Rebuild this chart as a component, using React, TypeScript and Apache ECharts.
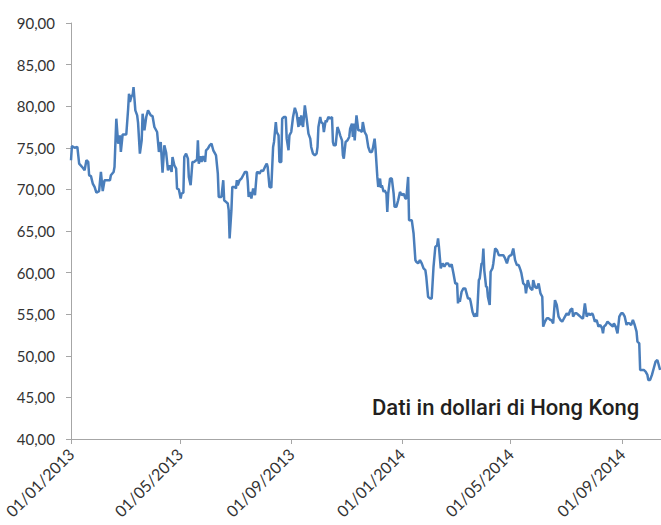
import React, { useEffect, useRef } from "react";
import * as echarts from "echarts";

// Days elapsed since 01/01/2013
const dayOffsets = [
  0, 1, 4, 7, 9, 13, 15, 17, 19, 20, 22, 24, 26, 28, 31, 33, 35, 37, 40, 43,
  44, 47, 48, 50, 52, 54, 55, 57, 61, 63, 64, 65, 67, 68, 69, 71, 73, 74, 76, 78,
  79, 81, 83, 85, 88, 90, 92, 95, 97, 99, 101, 103, 105, 107, 109, 111, 112, 114, 116, 117,
  119, 121, 122, 124, 125, 127, 129, 130, 132, 134, 136, 138, 139, 140, 141, 143, 144, 146, 148, 149,
  151, 153, 155, 157, 159, 160, 162, 163, 166, 168, 169, 171, 173, 174, 175, 177, 178, 181, 182, 183,
  184, 186, 188, 190, 192, 194, 195, 196, 198, 199, 201, 203, 205, 206, 208, 210, 212, 214, 216, 217,
  219, 221, 223, 224, 226, 227, 229, 230, 232, 233, 235, 237, 238, 240, 241, 243, 245, 247, 249, 251,
  252, 253, 254, 256, 257, 258, 260, 262, 264, 265, 267, 269, 271, 272, 273, 275, 276, 278, 279, 281,
  282, 284, 286, 288, 289, 290, 292, 294, 296, 297, 299, 300, 301, 303, 305, 307, 308, 310, 311, 312,
  313, 315, 317, 319, 321, 322, 324, 326, 328, 330, 332, 333, 335, 336, 338, 339, 341, 342, 343, 345,
  346, 348, 349, 350, 352, 354, 356, 357, 359, 361, 363, 365, 367, 369, 370, 372, 373, 376, 378, 380,
  381, 383, 385, 387, 389, 391, 392, 394, 396, 398, 400, 402, 404, 405, 406, 408, 410, 412, 414, 416,
  418, 420, 422, 424, 426, 427, 428, 429, 431, 433, 435, 437, 438, 440, 441, 443, 445, 447, 448, 450,
  451, 453, 454, 455, 456, 458, 459, 460, 462, 463, 465, 466, 468, 470, 472, 473, 475, 477, 479, 481,
  483, 485, 486, 488, 490, 492, 494, 496, 497, 499, 501, 502, 504, 506, 507, 509, 510, 512, 514, 516,
  518, 520, 521, 523, 525, 527, 529, 530, 532, 534, 536, 538, 540, 542, 543, 545, 547, 549, 551, 553,
  554, 556, 558, 560, 562, 564, 565, 567, 569, 571, 573, 575, 576, 578, 580, 582, 584, 586, 587, 588,
  590, 592, 594, 596, 598, 599, 601, 603, 605, 607, 609, 611, 613, 614, 616, 618, 620, 622, 624, 625,
  627, 628, 630, 632, 634, 636, 637, 639, 641, 643, 645, 647, 648, 650,
];

// Price in Hong Kong dollars
const prices = [
  73.5, 75.2, 75.0, 75.1, 73.1, 72.6, 72.3, 73.5, 73.3, 71.7, 71.6, 70.7, 70.3, 69.6, 69.8, 72.1, 69.8, 71.1, 71.1, 71.1,
  71.7, 72.1, 72.7, 78.5, 75.5, 76.5, 74.5, 76.6, 76.6, 79.6, 81.5, 80.5, 81.3, 81.3, 82.3, 79.5, 78.9, 78.0, 74.3, 75.9,
  79.1, 77.1, 78.7, 79.5, 78.9, 78.8, 77.5, 76.9, 74.5, 75.7, 72.0, 75.3, 74.4, 72.3, 72.9, 72.1, 73.9, 72.9, 72.5, 70.1,
  70.0, 68.9, 69.5, 69.6, 73.9, 74.3, 73.7, 71.5, 70.5, 73.3, 73.3, 73.5, 73.5, 75.9, 73.1, 74.0, 73.3, 74.0, 73.3, 74.7,
  74.9, 75.3, 75.5, 74.7, 74.3, 74.1, 71.9, 69.1, 69.1, 71.1, 68.7, 68.5, 68.3, 67.5, 64.1, 67.5, 70.3, 70.3, 70.1, 71.1,
  70.5, 71.1, 71.3, 71.7, 72.1, 72.1, 71.0, 69.1, 69.7, 68.9, 70.1, 69.3, 72.0, 72.1, 71.9, 72.3, 72.2, 72.7, 73.1, 72.7,
  70.3, 70.2, 75.1, 75.7, 78.1, 76.9, 76.5, 73.3, 73.3, 78.5, 78.7, 78.7, 76.1, 74.7, 76.5, 76.9, 78.7, 79.8, 79.1, 77.5,
  78.7, 77.7, 78.9, 77.5, 78.7, 80.1, 78.5, 76.7, 76.1, 75.1, 74.3, 74.1, 74.3, 75.1, 77.5, 78.7, 78.1, 77.9, 76.9, 78.3,
  78.1, 78.7, 78.5, 78.7, 75.7, 75.3, 75.3, 77.5, 76.9, 76.5, 75.9, 74.1, 73.7, 75.7, 75.9, 76.3, 77.3, 77.9, 76.3, 77.9,
  75.9, 78.9, 77.1, 77.1, 76.9, 78.1, 76.9, 76.5, 75.1, 74.5, 74.5, 74.9, 76.1, 74.9, 71.5, 70.3, 71.3, 70.2, 70.5, 69.7,
  69.9, 69.5, 67.3, 69.5, 71.3, 71.3, 69.5, 67.9, 67.9, 68.7, 69.7, 69.3, 69.5, 68.9, 68.9, 71.5, 66.3, 66.3, 64.7, 61.5,
  61.3, 61.1, 61.5, 61.1, 60.5, 60.3, 59.5, 57.1, 56.9, 56.9, 60.7, 63.1, 63.3, 64.1, 63.1, 60.5, 61.1, 60.7, 61.1, 61.1,
  60.7, 61.0, 59.9, 58.7, 58.7, 56.3, 56.9, 56.5, 57.7, 58.1, 58.1, 57.3, 56.9, 56.9, 56.5, 55.3, 54.7, 55.1, 54.7, 59.1,
  59.3, 61.1, 61.1, 62.9, 60.3, 58.3, 58.3, 57.1, 56.1, 60.1, 60.5, 61.1, 62.9, 62.7, 62.1, 62.1, 62.1, 62.1, 61.7, 61.1,
  61.9, 62.1, 62.1, 62.9, 61.5, 60.9, 60.9, 60.3, 59.9, 58.7, 58.5, 57.5, 59.1, 58.3, 58.1, 57.9, 59.1, 58.3, 58.1, 58.7,
  57.5, 57.1, 53.5, 54.1, 54.5, 54.5, 54.3, 54.3, 53.9, 56.7, 56.1, 54.7, 54.3, 54.1, 54.3, 54.7, 55.1, 54.9, 55.5, 55.7,
  54.7, 55.1, 55.1, 54.9, 54.7, 54.5, 54.5, 56.3, 54.7, 55.1, 54.9, 55.1, 54.9, 54.1, 54.3, 53.5, 53.7, 53.3, 52.7, 53.5,
  53.7, 54.1, 53.9, 53.7, 53.5, 53.9, 53.5, 52.7, 54.7, 55.1, 55.1, 54.7, 53.7, 53.9, 53.9, 53.7, 54.3, 53.7, 52.9, 51.7,
  51.5, 48.3, 48.3, 48.3, 48.1, 47.7, 47.1, 47.1, 47.7, 48.5, 49.3, 49.5, 49.1, 48.3,
];

const tickDays = [0, 120, 243, 365, 485, 608];
const tickLabels = ["01/01/2013", "01/05/2013", "01/09/2013", "01/01/2014", "01/05/2014", "01/09/2014"];
const noteText = "Dati in dollari di Hong Kong";

export default function App() {
  const ref = useRef<HTMLDivElement>(null);
  useEffect(() => {
    if (!ref.current) return;
    const chart = echarts.init(ref.current, undefined, { renderer: "svg" });
    const data = dayOffsets.map((d, i) => [d, prices[i]]);
    const labelFor = (v: number) => {
      const idx = tickDays.indexOf(Math.round(v));
      return idx >= 0 ? tickLabels[idx] : "";
    };
    chart.setOption({
      animation: false,
      backgroundColor: "#ffffff",
      grid: { left: 71, top: 23, width: 590, height: 416, containLabel: false },
      xAxis: {
        type: "value",
        min: 0,
        max: 651,
        splitLine: { show: false },
        axisLine: { show: true, lineStyle: { color: "#a6a6a6", width: 1 } },
        axisTick: {
          show: true,
          length: 5,
          lineStyle: { color: "#a6a6a6" },
          customValues: tickDays,
        },
        axisLabel: {
          customValues: tickDays,
          rotate: 45,
          margin: 12,
          color: "#333333",
          fontFamily: "Lato",
          fontSize: 16,
          formatter: (v: number) => labelFor(v),
        },
      },
      yAxis: {
        type: "value",
        min: 40,
        max: 90,
        interval: 5,
        splitLine: { show: false },
        axisLine: { show: true, lineStyle: { color: "#a6a6a6", width: 1 } },
        axisTick: { show: true, length: 5, lineStyle: { color: "#a6a6a6" } },
        axisLabel: {
          margin: 16,
          color: "#333333",
          fontFamily: "Lato",
          fontSize: 15,
          formatter: (v: number) => v.toFixed(2).replace(".", ","),
        },
      },
      series: [
        {
          type: "line",
          data,
          showSymbol: false,
          symbol: "none",
          lineStyle: { color: "#4a7ebb", width: 2.5 },
        },
      ],
      graphic: [
        {
          type: "text",
          left: 372,
          top: 396,
          style: {
            text: noteText,
            fill: "#231f20",
            font: "500 22px Roboto",
          },
        },
      ],
    });
    return () => chart.dispose();
  }, []);
  return (
    <div
      ref={ref}
      style={{ position: "fixed", left: 0, top: 0, width: 661, height: 525, background: "#fff" }}
    />
  );
}
